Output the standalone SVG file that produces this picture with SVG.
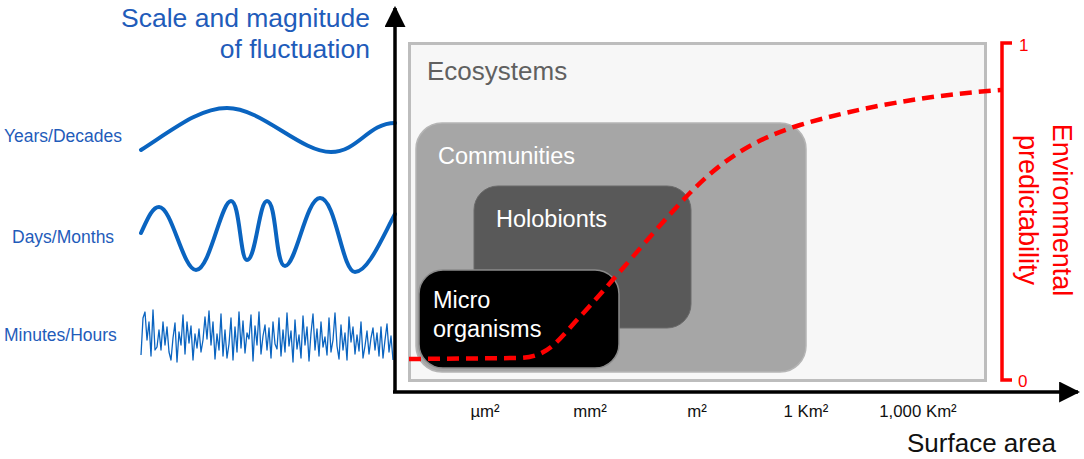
<svg xmlns="http://www.w3.org/2000/svg" width="1084" height="459" viewBox="0 0 1084 459">
<style>
.blue{fill:#1f5cba;font-family:"Liberation Sans",Arial,sans-serif}
.wave{fill:none;stroke:#0a64c0;stroke-width:4;stroke-linecap:round;stroke-linejoin:round}
.lbl{font-family:"Liberation Sans",Arial,sans-serif}
.tick{font-family:"Liberation Sans",Arial,sans-serif;font-size:16.8px;fill:#111;text-anchor:middle}
.red{fill:#ff0000;font-family:"Liberation Sans",Arial,sans-serif}
</style>
<defs>
<marker id="ah" viewBox="0 0 10 10" refX="9" refY="5" markerWidth="6" markerHeight="6" orient="auto" markerUnits="strokeWidth"><path d="M0,0 L10,5 L0,10 z" fill="#000"/></marker>
</defs>
<rect width="1084" height="459" fill="#fff"/>
<g id="title">
<text class="blue" x="370" y="27" font-size="26.5" text-anchor="end">Scale and magnitude</text>
<text class="blue" x="370" y="58" font-size="26.5" text-anchor="end">of fluctuation</text>
</g>
<g id="years">
<text class="blue" x="4" y="142" font-size="17.5">Years/Decades</text>
<path class="wave" d="M141,150 C175,128 200,108 227,108 C262,108 300,152 331,152 C358,152 368,123 395,123"/>
</g>
<g id="days">
<text class="blue" x="12" y="243" font-size="17.5">Days/Months</text>
<path class="wave" d="M141,233 C147,220 152,207 159,207 C172,207 183,270 196,270 C210,270 221,201 231,201 C240,201 240,260 247,260 C256,260 259,201 267,201 C277,201 275,266 285,266 C296,266 306,198 320,198 C336,198 342,272 355,272 C368,272 382,238 395,214"/>
</g>
<g id="minutes">
<text class="blue" x="4" y="341" font-size="17.5">Minutes/Hours</text>
<polyline fill="none" stroke="#0a64c0" stroke-width="1.3" stroke-linejoin="round" points="141,355 143,318 145,312 147,340 149,322 151,356 153,310 155,350 157,347 159,330 161,350 163,322 165,345 167,327 169,352 171,360 173,338 175,323 177,362 179,332 181,345 183,315 185,354 187,322 189,343 191,326 193,360 195,334 197,348 199,329 201,352 203,340 205,317 207,339 209,311 211,345 213,322 215,359 217,334 219,350 221,314 223,356 225,330 227,358 229,344 231,318 233,360 235,327 237,352 239,312 241,348 243,321 245,353 247,333 249,339 251,315 253,361 255,326 257,345 259,312 261,354 263,336 265,325 267,350 269,328 271,358 273,322 275,344 277,349 279,318 281,356 283,330 285,352 287,313 289,346 291,331 293,362 295,320 297,349 299,335 301,358 303,316 305,345 307,327 309,361 311,333 313,314 315,350 317,329 319,356 321,322 323,347 325,337 327,355 329,318 331,352 333,340 335,313 337,346 339,359 341,325 343,350 345,333 347,360 349,317 351,342 353,327 355,354 357,335 359,351 361,322 363,358 365,346 367,331 369,354 371,338 373,328 375,350 377,333 379,356 381,327 383,358 385,340 387,324 389,352 391,336 393,360"/>
</g>
<g id="ecosystems">
<rect x="409.5" y="43.5" width="576" height="337" fill="#f7f7f7" stroke="#bdbdbd" stroke-width="3"/>
<text class="lbl" x="427" y="80" font-size="26" fill="#606060">Ecosystems</text>
</g>
<g id="communities">
<rect x="416" y="123" width="390" height="249" rx="26" fill="#a6a6a6" stroke="#b5b5b5" stroke-width="1.5"/>
<text class="lbl" x="438" y="164" font-size="23.5" fill="#fff">Communities</text>
</g>
<g id="holobionts">
<rect x="474" y="186" width="217" height="142" rx="24" fill="#595959" stroke="#6a6a6a" stroke-width="1"/>
<text class="lbl" x="496" y="227" font-size="23.5" fill="#fff">Holobionts</text>
</g>
<g id="microorganisms">
<rect x="419" y="270" width="200" height="98" rx="24" fill="#000" stroke="#8a8a8a" stroke-width="1.5"/>
<text class="lbl" x="433" y="308" font-size="23.5" fill="#fff">Micro</text>
<text class="lbl" x="433" y="337" font-size="23.5" fill="#fff">organisms</text>
</g>
<g id="connectors">
<line x1="395" y1="393" x2="395" y2="8" stroke="#000" stroke-width="3.5" marker-end="url(#ah)"/>
<line x1="393" y1="392" x2="1078" y2="392" stroke="#000" stroke-width="3.5" marker-end="url(#ah)"/>
<path d="M409,359 L520,358 C545,357 555,345 575,322 C610,285 650,235 686,197 C715,167 745,142 800,125 C860,107 930,95 1001,90" fill="none" stroke="#ff0000" stroke-width="4.5" stroke-dasharray="12,7"/>
</g>
<g id="predictability">
<polyline points="1012,43 1002,43 1002,380 1012,380" fill="none" stroke="#ff0000" stroke-width="3.5"/>
<text class="red" x="1019" y="51" font-size="17">1</text>
<text class="red" x="1018" y="387" font-size="17">0</text>
<text class="red" font-size="27" text-anchor="middle" transform="translate(1053,210) rotate(90)">Environmental</text>
<text class="red" font-size="27" text-anchor="middle" transform="translate(1019,210) rotate(90)">predictability</text>
</g>
<g id="xlabels">
<text class="tick" x="485" y="417">µm²</text>
<text class="tick" x="590" y="417">mm²</text>
<text class="tick" x="697" y="417">m²</text>
<text class="tick" x="806" y="417">1 Km²</text>
<text class="tick" x="918" y="417">1,000 Km²</text>
<text class="lbl" x="907" y="452" font-size="26" fill="#111">Surface area</text>
</g>
</svg>
